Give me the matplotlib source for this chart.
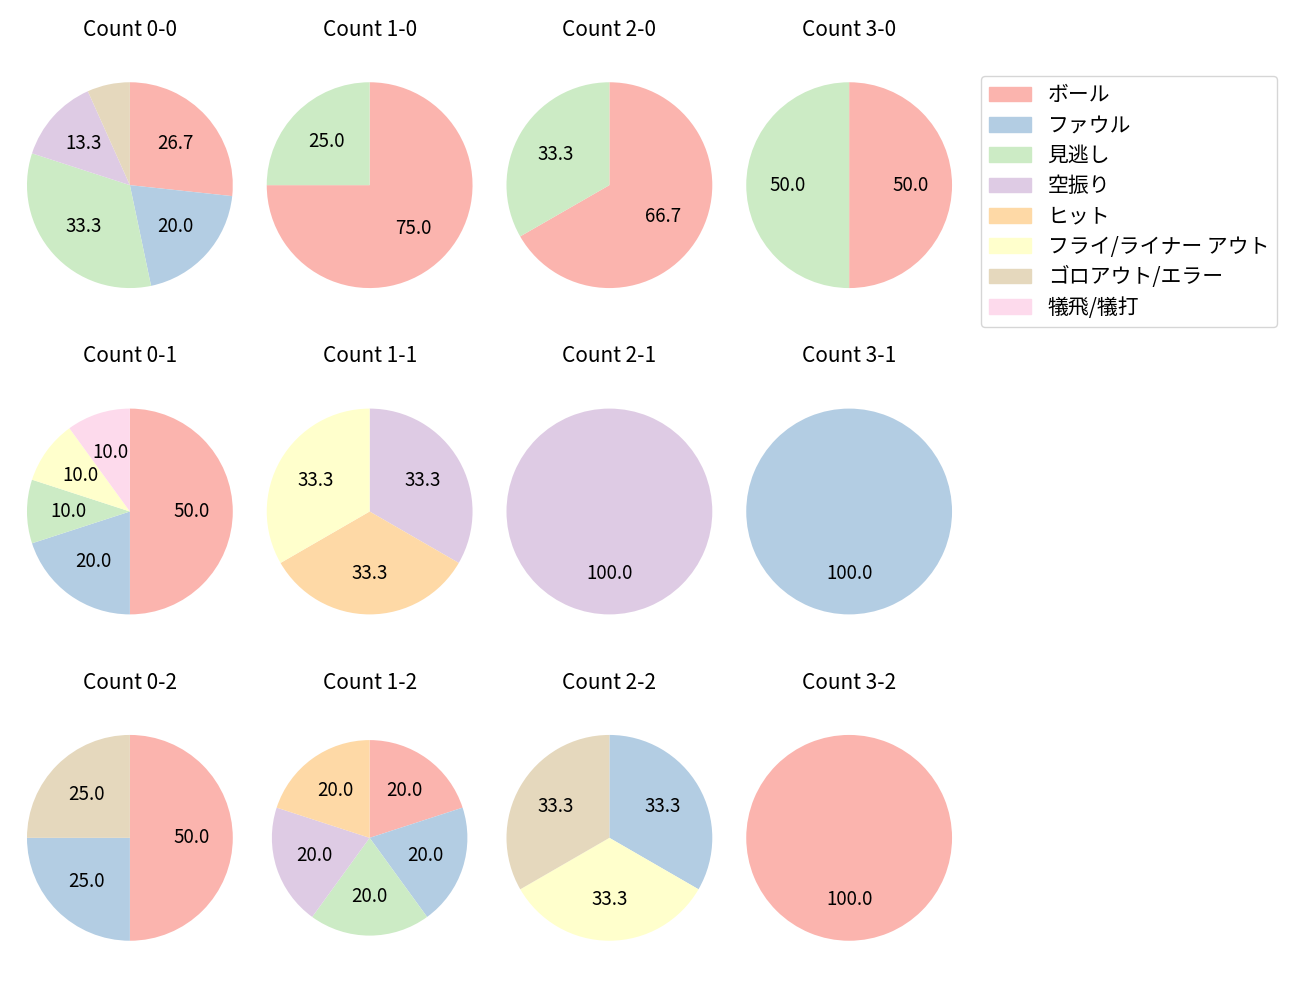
import numpy as np
import matplotlib
matplotlib.use('Agg')
import matplotlib.pyplot as plt

plt.rcParams['font.family'] = ['Noto Sans CJK JP', 'DejaVu Sans']

# Categories (legend order)
categories = ['ボール', 'ファウル', '見逃し', '空振り', 'ヒット',
              'フライ/ライナー アウト', 'ゴロアウト/エラー', '犠飛/犠打']

# Percentages per count, in category order
counts = ['0-0', '1-0', '2-0', '3-0',
          '0-1', '1-1', '2-1', '3-1',
          '0-2', '1-2', '2-2', '3-2']
values = {
    '0-0': [26.7, 20.0, 33.3, 13.3, 0, 0, 6.7, 0],
    '1-0': [75.0, 0, 25.0, 0, 0, 0, 0, 0],
    '2-0': [66.7, 0, 33.3, 0, 0, 0, 0, 0],
    '3-0': [50.0, 0, 50.0, 0, 0, 0, 0, 0],
    '0-1': [50.0, 20.0, 10.0, 0, 0, 10.0, 0, 10.0],
    '1-1': [0, 0, 0, 33.3, 33.3, 33.3, 0, 0],
    '2-1': [0, 0, 0, 100.0, 0, 0, 0, 0],
    '3-1': [0, 100.0, 0, 0, 0, 0, 0, 0],
    '0-2': [50.0, 25.0, 0, 0, 0, 0, 25.0, 0],
    '1-2': [20.0, 20.0, 20.0, 20.0, 20.0, 0, 0, 0],
    '2-2': [0, 33.3, 0, 0, 0, 33.3, 33.3, 0],
    '3-2': [100.0, 0, 0, 0, 0, 0, 0, 0],
}

colors = plt.cm.Pastel1(np.arange(len(categories)))

def fmt_pct(p):
    # hide labels for small slices
    return '%.1f' % p if p >= 8 else ''

fig, axes = plt.subplots(3, 4, figsize=(13, 10), dpi=100)
plt.subplots_adjust(left=0.0077, right=0.7454, top=0.935, bottom=0.042,
                    wspace=0.0, hspace=0.358)

lim = 1.165
for ax, c in zip(axes.flat, counts):
    v = np.array(values[c], dtype=float)
    keep = v > 0
    r = 0.95 if c == '1-2' else 1.0
    ax.pie(v[keep], colors=colors[keep], startangle=90, counterclock=False,
           autopct=fmt_pct, pctdistance=0.6, radius=r,
           textprops={'fontsize': 13.5})
    ax.set_xlim(-lim, lim)
    ax.set_ylim(-lim, lim)
    ax.set_aspect('equal')
    ax.set_title('Count ' + c, fontsize=15, pad=21)

handles = [plt.Rectangle((0, 0), 1, 1, color=colors[i]) for i in range(len(categories))]
fig.legend(handles, categories, loc='upper left', bbox_to_anchor=(0.7546, 0.924),
           borderaxespad=0, fontsize=15, handlelength=2.0, labelspacing=0.4)

plt.savefig('out.png')
